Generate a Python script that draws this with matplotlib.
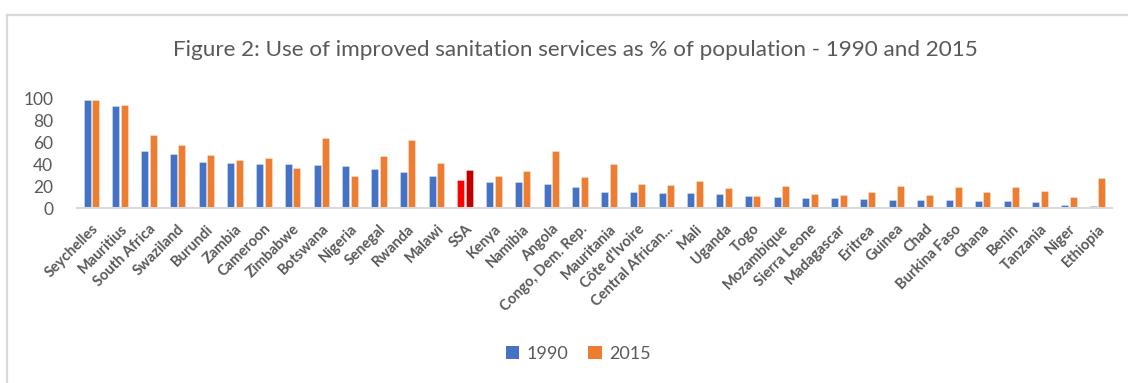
import matplotlib
matplotlib.use("Agg")
import matplotlib.pyplot as plt
import numpy as np
from matplotlib.patches import Patch
from matplotlib.lines import Line2D

countries = ["Seychelles", "Mauritius", "South Africa", "Swaziland", "Burundi", "Zambia",
             "Cameroon", "Zimbabwe", "Botswana", "Nigeria", "Senegal", "Rwanda", "Malawi",
             "SSA", "Kenya", "Namibia", "Angola", "Congo, Dem. Rep.", "Mauritania",
             "Côte d'Ivoire", "Central African...", "Mali", "Uganda", "Togo", "Mozambique",
             "Sierra Leone", "Madagascar", "Eritrea", "Guinea", "Chad", "Burkina Faso",
             "Ghana", "Benin", "Tanzania", "Niger", "Ethiopia"]
v1990 = [98.7, 92.8, 51.8, 48.8, 41.8, 40.9, 39.9, 39.9, 39.3, 38.1, 35.2, 32.9, 29.0,
         25.3, 24.1, 23.5, 22.0, 18.9, 14.9, 14.3, 14.0, 13.4, 12.5, 11.0, 9.8, 9.5,
         8.8, 8.5, 7.6, 7.0, 7.0, 6.1, 6.1, 5.5, 3.0, 1.8]
v2015 = [98.7, 94.0, 66.8, 57.6, 47.9, 43.9, 46.0, 36.9, 64.0, 29.0, 47.6, 61.9, 40.9,
         34.5, 29.6, 34.1, 51.8, 28.0, 39.9, 22.0, 21.3, 24.4, 18.6, 11.0, 19.8, 12.5,
         11.6, 14.9, 19.8, 11.6, 19.2, 14.3, 19.2, 15.2, 10.4, 27.7]
series_names = ["1990", "2015"]
highlight = "SSA"

FONT = ["Lato", "DejaVu Sans"]
plt.rcParams["font.family"] = FONT
GREY = "#595959"
BLUE, ORANGE = "#4472C4", "#ED7D31"
RED1, RED2 = "#FF0000", "#C00000"

W, H = 1128, 383
fig = plt.figure(figsize=(W / 100, H / 100), dpi=100)
fig.patch.set_facecolor("white")

# outer chart-area border (only top and left visible)
fig.add_artist(Line2D([6.5 / W, 6.5 / W], [0, 1 - 15 / H], color="#D9D9D9", lw=1.6,
                      transform=fig.transFigure))
fig.add_artist(Line2D([6.5 / W, 1], [1 - 15 / H, 1 - 15 / H], color="#D9D9D9", lw=1.6,
                      transform=fig.transFigure))

ax_l, ax_r = 77 / W, 1112 / W
ax_b, ax_t = 1 - 208 / H, 1 - 98.3 / H
ax = fig.add_axes([ax_l, ax_b, ax_r - ax_l, ax_t - ax_b])

x = np.arange(len(countries))
bw = 0.245
off = 0.148
c1 = [RED1 if c == highlight else BLUE for c in countries]
c2 = [RED2 if c == highlight else ORANGE for c in countries]
ax.bar(x - off, v1990, width=bw, color=c1, edgecolor=(1, 1, 1, 0.35), linewidth=0.6, zorder=2)
ax.bar(x + off, v2015, width=bw, color=c2, edgecolor=(1, 1, 1, 0.35), linewidth=0.6, zorder=2)

ax.set_xlim(-0.5, len(countries) - 0.5)
ax.set_ylim(0, 100)
ax.set_yticks(np.arange(0, 101, 20))
ax.tick_params(axis="y", length=0, pad=17, labelsize=12.5, labelcolor=GREY)
ax.set_xticks(x)
ax.set_xticklabels(countries, rotation=45, ha="right", rotation_mode="anchor",
                   fontsize=10.5, fontweight="bold", color=GREY)
ax.tick_params(axis="x", length=0, pad=10)
for s in ["top", "right", "left"]:
    ax.spines[s].set_visible(False)
ax.spines["bottom"].set_color("#D9D9D9")
ax.spines["bottom"].set_linewidth(1.5)

fig.text(575 / W, 1 - 50 / H, "Figure 2: Use of improved sanitation services as % of population - 1990 and 2015",
         ha="center", va="center", fontsize=16.2, color=GREY, fontweight="normal")

handles = [Patch(facecolor=BLUE, label=series_names[0]), Patch(facecolor=ORANGE, label=series_names[1])]
leg = fig.legend(handles=handles, loc="center", bbox_to_anchor=(578 / W, 1 - 354 / H), ncol=2,
                 frameon=False, fontsize=13, handlelength=0.75, handleheight=0.75,
                 handletextpad=0.4, columnspacing=1.1)
for t in leg.get_texts():
    t.set_color(GREY)

fig.savefig("out.png", dpi=100, facecolor="white")
